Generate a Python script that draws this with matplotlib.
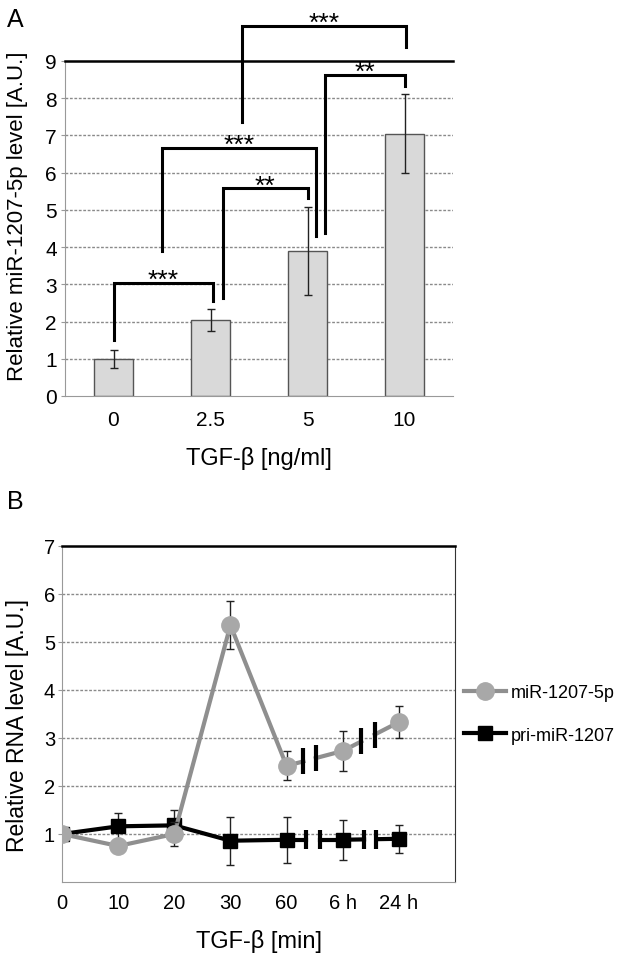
import matplotlib
matplotlib.use("Agg")
import matplotlib.pyplot as plt
import numpy as np
from matplotlib.lines import Line2D

plt.rcParams['font.family'] = ['Liberation Sans', 'DejaVu Sans']

# ---------------- Data: panel A ----------------
doses = ["0", "2.5", "5", "10"]
mir_level = [1.0, 2.05, 3.9, 7.05]
mir_err = [0.24, 0.30, 1.18, 1.07]
yticks_a = [0, 1, 2, 3, 4, 5, 6, 7, 8, 9]

# significance brackets: (x_left, x_right, y_left_bottom, y_right_bottom, y_top, label)
brackets = [
    (0.00, 1.03, 1.50, 2.56, 3.04, "***"),
    (1.13, 2.00, 2.63, 5.32, 5.59, "**"),
    (0.50, 2.09, 3.90, 4.30, 6.67, "***"),
    (2.18, 3.00, 4.38, 8.33, 8.63, "**"),
    (1.32, 3.02, 7.37, 9.38, 9.95, "***"),
]

# ---------------- Data: panel B ----------------
times = ["0", "10", "20", "30", "60", "6 h", "24 h"]
mir5p = [1.0, 0.75, 1.0, 5.35, 2.42, 2.73, 3.33]
mir5p_err = [0.08, 0.08, 0.25, 0.50, 0.30, 0.42, 0.33]
pri = [1.0, 1.16, 1.18, 0.86, 0.88, 0.88, 0.90]
pri_err = [0.08, 0.28, 0.33, 0.50, 0.48, 0.42, 0.29]
yticks_b = [1, 2, 3, 4, 5, 6, 7]

fig = plt.figure(figsize=(6.35, 9.54), dpi=100)

grid_kw = dict(color="#8a8a8a", linestyle=(0, (2, 1.2)), linewidth=1.0)

# ================= Panel A =================
axA = fig.add_axes([65 / 635, 1 - 397 / 954, 388 / 635, 335 / 954])
xa = np.arange(len(doses))
axA.set_xlim(-0.5, 3.5)
axA.set_ylim(0, 9)
for yv in yticks_a[1:-1]:
    axA.axhline(yv, zorder=0, **grid_kw)
axA.bar(xa, mir_level, width=0.4, color="#d9d9d9", edgecolor="#555555", linewidth=1.0, zorder=2)
axA.errorbar(xa, mir_level, yerr=mir_err, fmt="none", ecolor="#222222", elinewidth=1.0,
             capsize=3, capthick=1.0, zorder=3)
axA.set_yticks(yticks_a)
axA.set_yticklabels([str(v) for v in yticks_a], fontsize=15)
axA.set_xticks(xa)
axA.set_xticklabels(doses, fontsize=15)
axA.tick_params(axis="x", length=0, pad=10)
axA.tick_params(axis="y", length=3, color="#999999", pad=3)
axA.spines["left"].set_color("#999999")
axA.spines["bottom"].set_color("#999999")
axA.spines["right"].set_visible(False)
axA.spines["top"].set_color("black")
axA.spines["top"].set_linewidth(1.8)
axA.set_ylabel("Relative miR-1207-5p level [A.U.]", fontsize=16)
axA.yaxis.set_label_coords(-0.095, 0.54)
axA.set_xlabel("TGF-β [ng/ml]", fontsize=17, labelpad=12)

for (xl, xr, yl, yr, yt, lab) in brackets:
    axA.plot([xl, xl, xr, xr], [yl, yt, yt, yr], color="black", linewidth=2.2,
             solid_joinstyle="miter", clip_on=False, zorder=4)
    axA.text((xl + xr) / 2, yt - 0.12, lab, ha="center", va="baseline", fontsize=19,
             clip_on=False, zorder=5)

fig.text(15 / 635, 1 - 20 / 954, "A", fontsize=18, ha="center", va="center")

# ================= Panel B =================
axB = fig.add_axes([62 / 635, 1 - 883 / 954, 393 / 635, 336 / 954])
xb = np.arange(len(times))
axB.set_xlim(0, 7)
axB.set_ylim(0, 7)
for yv in yticks_b[:-1]:
    axB.axhline(yv, zorder=0, **grid_kw)

def broken_series(ax, y, yerr, color, mcolor, marker, ms, breaks, mark_h, z):
    ax.plot(xb[:5], y[:5], color=color, linewidth=3.0, zorder=z)
    for (i, f1, f2) in breaks:
        x0, x1 = xb[i], xb[i + 1]
        y0, y1 = y[i], y[i + 1]
        xa1 = x0 + f1 * (x1 - x0)
        xa2 = x0 + f2 * (x1 - x0)
        ya1 = y0 + f1 * (y1 - y0)
        ya2 = y0 + f2 * (y1 - y0)
        ax.plot([x0, xa1], [y0, ya1], color=color, linewidth=3.0, zorder=z)
        ax.plot([xa2, x1], [ya2, y1], color=color, linewidth=3.0, zorder=z)
        for xm, ym in ((xa1, ya1), (xa2, ya2)):
            ax.plot([xm, xm], [ym - mark_h, ym + mark_h], color="black", linewidth=3.0,
                    solid_capstyle="butt", zorder=z + 0.5)
    ax.errorbar(xb, y, yerr=yerr, fmt="none", ecolor="#222222", elinewidth=1.0,
                capsize=3, capthick=1.0, zorder=z + 0.2)
    ax.plot(xb, y, linestyle="none", marker=marker, markersize=ms, color=mcolor,
            markeredgecolor=mcolor, zorder=z + 0.3)

broken_series(axB, pri, pri_err, "black", "black", "s", 10,
              [(4, 0.35, 0.60), (5, 0.38, 0.60)], 0.2, 3)
broken_series(axB, mir5p, mir5p_err, "#8f8f8f", "#a8a8a8", "o", 12.5,
              [(4, 0.30, 0.52), (5, 0.33, 0.57)], 0.27, 5)

axB.set_yticks(yticks_b)
axB.set_yticklabels([str(v) for v in yticks_b], fontsize=14.5)
axB.set_xticks(xb)
axB.set_xticklabels(times, fontsize=14.5)
axB.tick_params(axis="x", length=0, pad=8)
axB.tick_params(axis="y", length=3, color="#999999", pad=2)
axB.spines["left"].set_color("#999999")
axB.spines["bottom"].set_color("#999999")
axB.spines["right"].set_color("#333333")
axB.spines["top"].set_color("black")
axB.spines["top"].set_linewidth(1.8)
axB.set_ylabel("Relative RNA level [A.U.]", fontsize=16.5)
axB.yaxis.set_label_coords(-0.083, 0.47)
axB.set_xlabel("TGF-β [min]", fontsize=17, labelpad=12)

h1 = Line2D([], [], color="#8f8f8f", linewidth=3.0, marker="o", markersize=12.5,
            markerfacecolor="#a8a8a8", markeredgecolor="#a8a8a8")
h2 = Line2D([], [], color="black", linewidth=3.0, marker="s", markersize=10)
leg = axB.legend([h1, h2], ["miR-1207-5p", "pri-miR-1207"], loc="upper left",
                 bbox_to_anchor=(1.005, 0.61), frameon=False, fontsize=13,
                 handlelength=2.3, handletextpad=0.3, labelspacing=1.4, borderaxespad=0)

fig.text(15 / 635, 1 - 502 / 954, "B", fontsize=18, ha="center", va="center")

fig.savefig("out.png", dpi=100)
